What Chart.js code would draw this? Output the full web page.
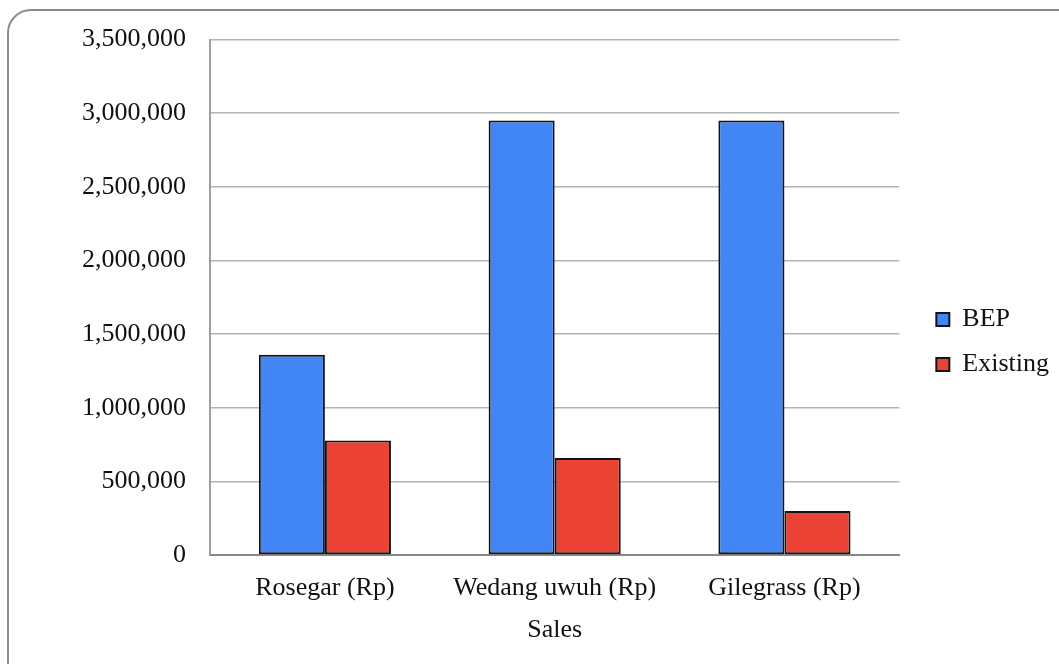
<!DOCTYPE html>
<html>
<head>
<meta charset="utf-8">
<script src="https://cdn.jsdelivr.net/npm/chart.js@4"></script>
<style>
  html, body { margin: 0; padding: 0; background: #fff; overflow: hidden; }
  #wrap { position: relative; width: 1059px; height: 664px; overflow: hidden; }
  #frame {
    position: absolute; left: 7px; top: 9px; width: 1090px; height: 690px;
    border: 2px solid #8c8c8c; border-radius: 24px; box-sizing: border-box;
    pointer-events: none;
  }
  canvas { position: absolute; left: 0; top: 0; }
</style>
</head>
<body>
<div id="wrap">
  <div id="frame"></div>
  <canvas id="c" width="1059" height="664"></canvas>
</div>
<script>
const categories = ['Rosegar (Rp)', 'Wedang uwuh (Rp)', 'Gilegrass (Rp)'];
const bepValues = [1360000, 2950000, 2950000];
const existingValues = [778000, 659000, 298000];
const yTicks = [0, 500000, 1000000, 1500000, 2000000, 2500000, 3000000, 3500000];
const xAxisTitle = 'Sales';

const serif = '"Liberation Serif", "Times New Roman", serif';

new Chart(document.getElementById('c'), {
  type: 'bar',
  data: {
    labels: categories,
    datasets: [
      {
        label: 'BEP',
        data: bepValues,
        backgroundColor: '#4285F4',
        borderColor: '#141414',
        borderWidth: 2,
        borderSkipped: false
      },
      {
        label: 'Existing',
        data: existingValues,
        backgroundColor: '#EA4335',
        borderColor: '#141414',
        borderWidth: 2,
        borderSkipped: false
      }
    ]
  },
  options: {
    responsive: false,
    devicePixelRatio: 1,
    animation: false,
    layout: { padding: { top: 38, right: 0, bottom: 18, left: 0 } },
    datasets: {
      bar: { categoryPercentage: 0.575, barPercentage: 1.0 }
    },
    plugins: {
      tooltip: { enabled: false },
      legend: {
        position: 'right',
        labels: {
          font: { family: serif, size: 26 },
          color: '#111',
          boxWidth: 13,
          boxHeight: 13,
          padding: 19
        }
      }
    },
    scales: {
      x: {
        grid: { display: false },
        border: { display: true, color: '#888', width: 2 },
        ticks: {
          font: { family: serif, size: 26 },
          color: '#111',
          padding: 10,
          maxRotation: 0
        },
        title: {
          display: true,
          text: xAxisTitle,
          font: { family: serif, size: 26 },
          color: '#111',
          padding: { top: 4, bottom: 0 }
        },
        afterFit: s => { s.height = 91; }
      },
      y: {
        min: 0,
        max: 3500000,
        afterBuildTicks: s => { s.ticks = yTicks.map(v => ({ value: v })); },
        grid: { color: '#b4b4b4', lineWidth: 1.5, drawTicks: false },
        border: { display: true, color: '#a0a0a0', width: 2 },
        ticks: {
          font: { family: serif, size: 26 },
          color: '#111',
          padding: 24,
          callback: v => Number(v).toLocaleString('en-US')
        },
        afterFit: s => { s.width = 210; }
      },
      gap: {
        type: 'linear',
        position: 'right',
        display: true,
        grid: { display: false, drawTicks: false },
        border: { display: false },
        ticks: { display: false },
        afterFit: s => { s.width = 18; }
      }
    }
  }
});
</script>
</body>
</html>
